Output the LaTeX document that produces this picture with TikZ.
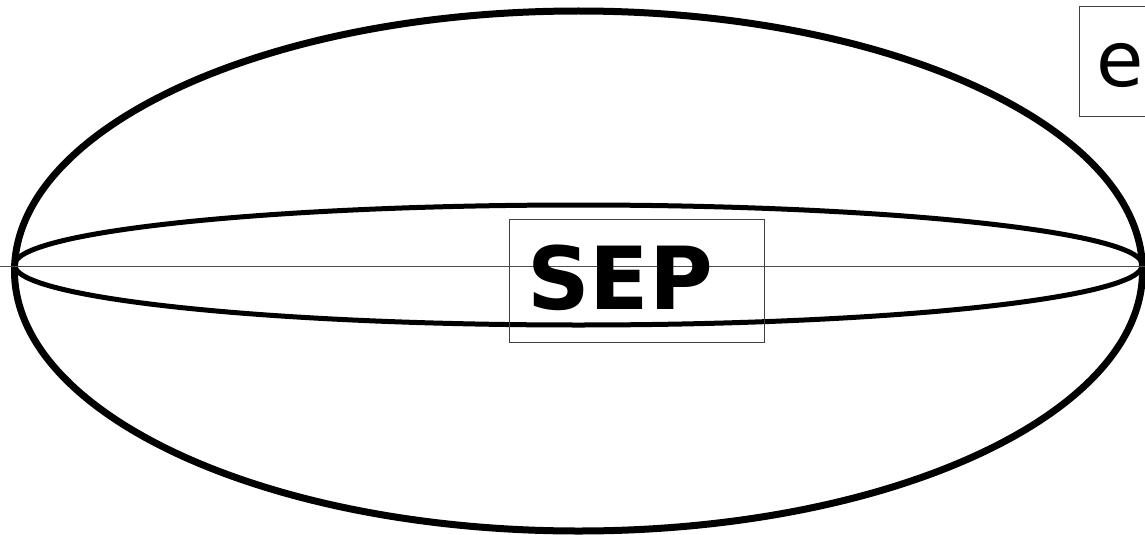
\documentclass[tikz,border=0pt]{standalone}
\usepackage{fontspec}
\newfontfamily\dejavu{DejaVu Sans}
\begin{document}
\begin{tikzpicture}[x=1pt,y=-1pt,
  bigring/.style={draw=black,line width=7pt},
  thinring/.style={draw=black,line width=5pt},
  framebox/.style={draw=black!75,line width=1pt,rectangle,inner sep=0pt},
  axisline/.style={draw=black!70,line width=1pt}]
\useasboundingbox (0,0) rectangle (1145,535);
\fill[white] (0,0) rectangle (1145,535);
% ellipses
\draw[bigring] (578.5,271) ellipse [x radius=564, y radius=260];
\draw[thinring] (578.5,265) ellipse [x radius=564, y radius=60];
% axis line
\coordinate (l) at (0,266);
\coordinate (r) at (1145,266);
\draw[axisline] (l) -- (r);
% SEP box
\node[framebox,minimum width=255pt,minimum height=123pt] (sepbox) at (636.5,280.5) {};
\node[anchor=base west,inner sep=0pt,font=\dejavu\bfseries\fontsize{87}{87}\selectfont] (sep) at (527,309.5) {SEP};
% e box
\node[framebox,minimum width=90pt,minimum height=109pt] (ebox) at (1124,61.5) {};
\node[anchor=base west,inner sep=0pt,font=\dejavu\fontsize{77}{77}\selectfont] (e) at (1096,86) {e};
\end{tikzpicture}
\end{document}
